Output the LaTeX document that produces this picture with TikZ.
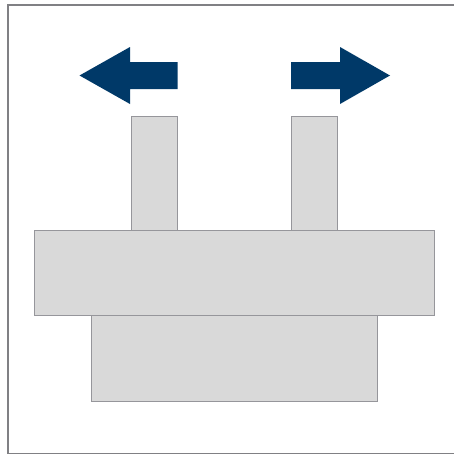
\documentclass[tikz,border=0pt]{standalone}
\definecolor{arrowblue}{RGB}{0,57,104}
\definecolor{partfill}{RGB}{217,217,217}
\definecolor{partline}{RGB}{150,150,155}
\definecolor{framegray}{RGB}{128,128,132}
\tikzset{
  part/.style={fill=partfill,draw=partline,line width=0.7pt},
  bluearrow/.style={fill=arrowblue,draw=none},
  frameline/.style={draw=framegray,line width=1.6pt}
}
\begin{document}
\begin{tikzpicture}[x=1pt,y=-1pt]
\useasboundingbox (0,0) rectangle (454,455);
% frame
\draw[frameline] (460,5) -- (8,5) -- (8,453.5) -- (460,453.5);
% posts
\draw[part] (131,116) rectangle (177,230);
\draw[part] (291,116) rectangle (337,230);
% lower box
\draw[part] (91.5,315) rectangle (377.5,401);
% main box
\draw[part] (34.5,230) rectangle (434.5,315);
% left arrow
\fill[bluearrow] (79.5,75.5) -- (130,47) -- (130,62) -- (177.5,62) -- (177.5,89) -- (130,89) -- (130,104) -- cycle;
% right arrow
\fill[bluearrow] (390,75.5) -- (340,47) -- (340,62) -- (291,62) -- (291,89) -- (340,89) -- (340,104) -- cycle;
\end{tikzpicture}
\end{document}
